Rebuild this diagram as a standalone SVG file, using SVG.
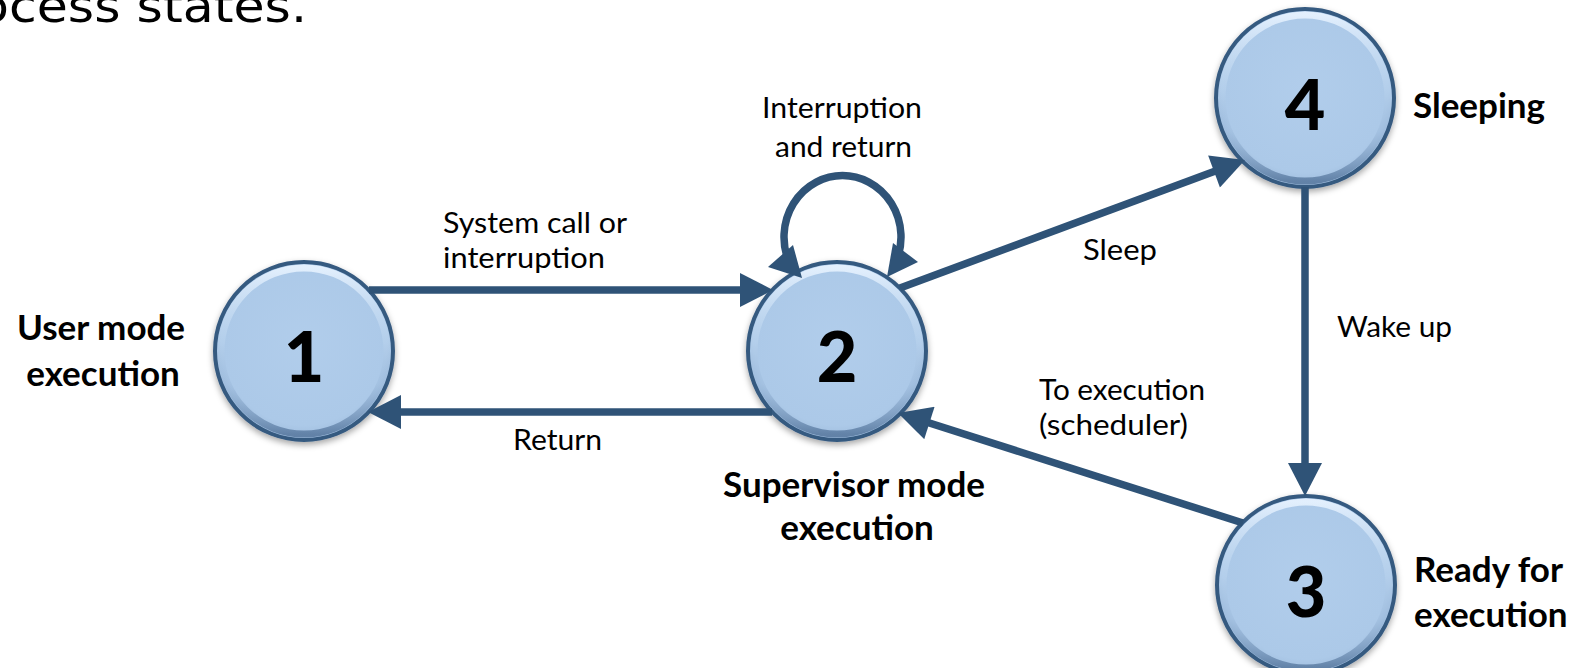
<svg xmlns="http://www.w3.org/2000/svg" width="1577" height="668" viewBox="0 0 1577 668">
  <style>
    .title { font-family: "DejaVu Sans", sans-serif; font-size: 46px; fill: #000; }
    .num { font-family: Lato, "Liberation Sans", sans-serif; font-weight: 900; font-size: 70px; fill: #000; text-anchor: middle; }
    .state { font-family: Lato, "Liberation Sans", sans-serif; font-weight: 700; font-size: 35px; fill: #000; }
    .lbl { font-family: Lato, "Liberation Sans", sans-serif; font-size: 29px; fill: #000; }
    .edge { fill: none; stroke: #2f5377; stroke-width: 7.5; }
    .head { fill: #2f5377; }
    .disc { fill: url(#discFill); stroke: #365a80; stroke-width: 4; filter: url(#shadow); }
    .bevel { fill: none; stroke: url(#bevelStroke); stroke-width: 7; }
  </style>
  <defs>
    <radialGradient id="discFill" cx="50%" cy="45%" r="55%">
      <stop offset="0" stop-color="#b1cdeb"/>
      <stop offset="0.85" stop-color="#acc9e8"/>
      <stop offset="1" stop-color="#9dbbdc"/>
    </radialGradient>
    <linearGradient id="bevelStroke" x1="0" y1="0" x2="0" y2="1">
      <stop offset="0" stop-color="#e8f3ff" stop-opacity="0.9"/>
      <stop offset="0.45" stop-color="#c4dbf2" stop-opacity="0.3"/>
      <stop offset="0.7" stop-color="#7f9fc4" stop-opacity="0.15"/>
      <stop offset="1" stop-color="#4d6e95" stop-opacity="0.75"/>
    </linearGradient>
    <filter id="shadow" x="-20%" y="-20%" width="140%" height="140%">
      <feDropShadow dx="0" dy="3" stdDeviation="3" flood-color="#000" flood-opacity="0.35"/>
    </filter>
    <marker id="arrow" markerUnits="userSpaceOnUse" markerWidth="34" markerHeight="34"
            viewBox="0 0 33 34" refX="23" refY="17" orient="auto">
      <path d="M0,0 L33,17 L0,34 z" class="head"/>
    </marker>
  </defs>

  <!-- heading, cut at the top edge -->
  <text class="title" x="-22" y="22" textLength="329" lengthAdjust="spacingAndGlyphs">ocess states.</text>

  <!-- state nodes -->
  <g id="node1">
    <circle class="disc" cx="304" cy="351" r="89"/>
    <circle class="bevel" cx="304" cy="351" r="83"/>
    <text class="num" x="304" y="382">1</text>
    <text class="state" text-anchor="middle" x="101" y="340">User mode</text>
    <text class="state" text-anchor="middle" x="103" y="386">execution</text>
  </g>
  <g id="node2">
    <circle class="disc" cx="837" cy="351" r="89"/>
    <circle class="bevel" cx="837" cy="351" r="83"/>
    <text class="num" x="837" y="382">2</text>
    <text class="state" text-anchor="middle" x="854" y="497">Supervisor mode</text>
    <text class="state" text-anchor="middle" x="857" y="540">execution</text>
  </g>
  <g id="node4">
    <circle class="disc" cx="1305" cy="98" r="89"/>
    <circle class="bevel" cx="1305" cy="98" r="83"/>
    <text class="num" x="1305" y="130">4</text>
    <text class="state" x="1413" y="118">Sleeping</text>
  </g>
  <g id="node3">
    <circle class="disc" cx="1306" cy="585" r="89"/>
    <circle class="bevel" cx="1306" cy="585" r="83"/>
    <text class="num" x="1306" y="617">3</text>
    <text class="state" x="1414" y="582">Ready for</text>
    <text class="state" x="1414" y="627">execution</text>
  </g>

  <!-- transitions -->
  <g id="connectors">
    <line class="edge" x1="369" y1="290" x2="763" y2="290" marker-end="url(#arrow)"/>
    <line class="edge" x1="772" y1="412" x2="378" y2="412" marker-end="url(#arrow)"/>
    <line class="edge" x1="900" y1="288" x2="1235.6" y2="163.5" marker-end="url(#arrow)"/>
    <line class="edge" x1="1305" y1="187" x2="1305" y2="486" marker-end="url(#arrow)"/>
    <line class="edge" x1="1243" y1="523" x2="907.5" y2="416" marker-end="url(#arrow)"/>
    <!-- self loop on node 2 -->
    <path class="edge" d="M789,262 A58.5,61.5 0 1 1 896,262"/>
    <polygon class="head" points="768,267 793,245 802,278"/>
    <polygon class="head" points="893,243 918,262 887,277"/>

    <text class="lbl" x="443" y="233" textLength="184" lengthAdjust="spacingAndGlyphs">System call or</text>
    <text class="lbl" x="443" y="268" textLength="162" lengthAdjust="spacingAndGlyphs">interruption</text>
    <text class="lbl" x="513" y="450" textLength="89" lengthAdjust="spacingAndGlyphs">Return</text>
    <text class="lbl" x="762" y="118" textLength="160" lengthAdjust="spacingAndGlyphs">Interruption</text>
    <text class="lbl" x="775" y="157" textLength="137" lengthAdjust="spacingAndGlyphs">and return</text>
    <text class="lbl" x="1083" y="260" textLength="74" lengthAdjust="spacingAndGlyphs">Sleep</text>
    <text class="lbl" x="1337" y="337" textLength="115" lengthAdjust="spacingAndGlyphs">Wake up</text>
    <text class="lbl" x="1039" y="400" textLength="166" lengthAdjust="spacingAndGlyphs">To execution</text>
    <text class="lbl" x="1039" y="435" textLength="149" lengthAdjust="spacingAndGlyphs">(scheduler)</text>
  </g>
</svg>
